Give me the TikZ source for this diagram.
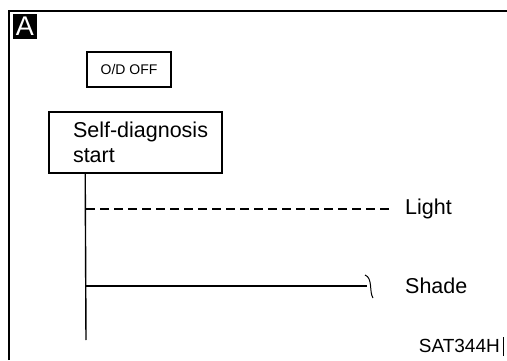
\documentclass[tikz,border=0pt]{standalone}
\usepackage{fontspec}
\setmainfont{Liberation Sans}
\usetikzlibrary{calc}
\definecolor{LineClr}{rgb}{0,0,0}

\tikzset{
  linebox/.style={draw=LineClr,line width=1.6pt,inner sep=0pt},
  wire/.style={draw=LineClr,line width=1.4pt},
  lbl/.style={font=\fontsize{21.5}{25}\selectfont,inner sep=0pt}
}

\begin{document}
\begin{tikzpicture}[x=1pt,y=1pt]
\useasboundingbox (0,0) rectangle (507,360);

\draw[line width=2pt] (9,0) -- (9,349) -- (507,349);

\node[fill=black,minimum width=24pt,minimum height=25pt,inner sep=0pt,
  text=white,font=\fontsize{27}{27}\selectfont] (tag) at (25,334) {A};

\node[linebox,minimum width=84pt,minimum height=35pt,
  font=\fontsize{14}{14}\selectfont] (odoff) at (129,290.5) {O/D OFF};

\node[linebox,lbl,minimum width=173pt,minimum height=61pt,
  text width=173pt,align=left] (diag) at (135.5,217.5)
  {\hspace*{24pt}Self-diagnosis\\\hspace*{24pt}start};

\coordinate (stem) at ([xshift=37pt]diag.south west);
\coordinate (stemend) at (86,20);
\coordinate (lighttap) at (86,151);
\coordinate (lightend) at (393,151);
\coordinate (shadetap) at (86,74);
\coordinate (shadeend) at (367,74);

\node[lbl,anchor=west] (light) at (405,151) {Light};
\node[lbl,anchor=west] (shade) at (405,74) {Shade};
\node[font=\fontsize{19}{20}\selectfont,inner sep=0pt,anchor=east] (code) at (500,14) {SAT344H};

\draw[wire] (stem) -- (stemend);
\draw[wire,line width=1.2pt,dash pattern=on 9pt off 5pt] (lighttap) -- (lightend);
\draw[wire] (shadetap) -- (shadeend);
\draw[line width=1pt] (365,85) .. controls (373,82) and (369,68) .. (373,62);

\draw[line width=1.2pt] (503.5,4) -- (503.5,23);

\end{tikzpicture}
\end{document}
